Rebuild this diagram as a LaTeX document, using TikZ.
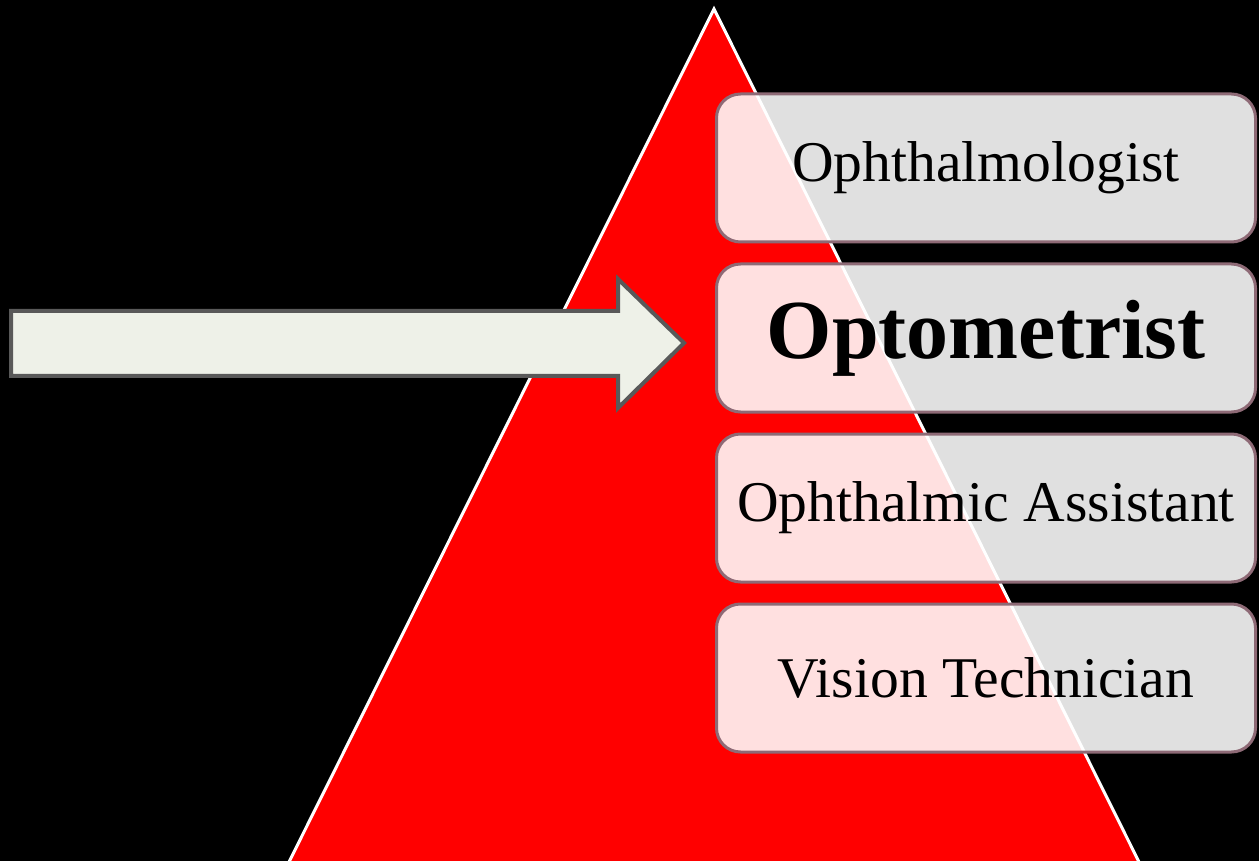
\documentclass[tikz,border=0pt]{standalone}
\usepackage{fontspec}
\setmainfont{Liberation Serif}
\usetikzlibrary{positioning}
\definecolor{boxline}{HTML}{8E6A76}
\definecolor{arrowfill}{HTML}{EEF1E8}
\definecolor{arrowline}{HTML}{595959}
\begin{document}
\begin{tikzpicture}[x=0.5pt,y=-0.5pt,
        level/.style={draw=boxline,line width=1.5pt,fill=white,fill opacity=0.88,text opacity=1,
            rounded corners=12pt,minimum width=269.5pt,minimum height=74pt,inner sep=0pt,
            font=\fontsize{28.8}{34}\selectfont}]
        \fill [black] (0,0) rectangle (1259,861);
        \useasboundingbox (0,0) rectangle (1259,861);
        \clip (0,0) rectangle (1259,861);
        % pyramid
        \draw [white,line width=1.5pt,fill=red] (714,9) -- (1143,870) -- (285,870) -- cycle;
        % levels
        \node [level] (ophth) at (986,168) {Ophthalmologist};
        \node [level,below=9.5pt of ophth,font=\fontsize{42}{48}\selectfont\bfseries] (optom) {Optometrist};
        \node [level,below=9.5pt of optom] (assist) {Ophthalmic Assistant};
        \node [level,below=9.5pt of assist] (tech) {Vision Technician};
        % pointer
        \draw [arrowline,line width=2pt,fill=arrowfill] (11,311) -- (618,311) -- (618,279)
            -- (684,343) -- (618,408) -- (618,376) -- (11,376) -- cycle;
    \end{tikzpicture}
\end{document}
